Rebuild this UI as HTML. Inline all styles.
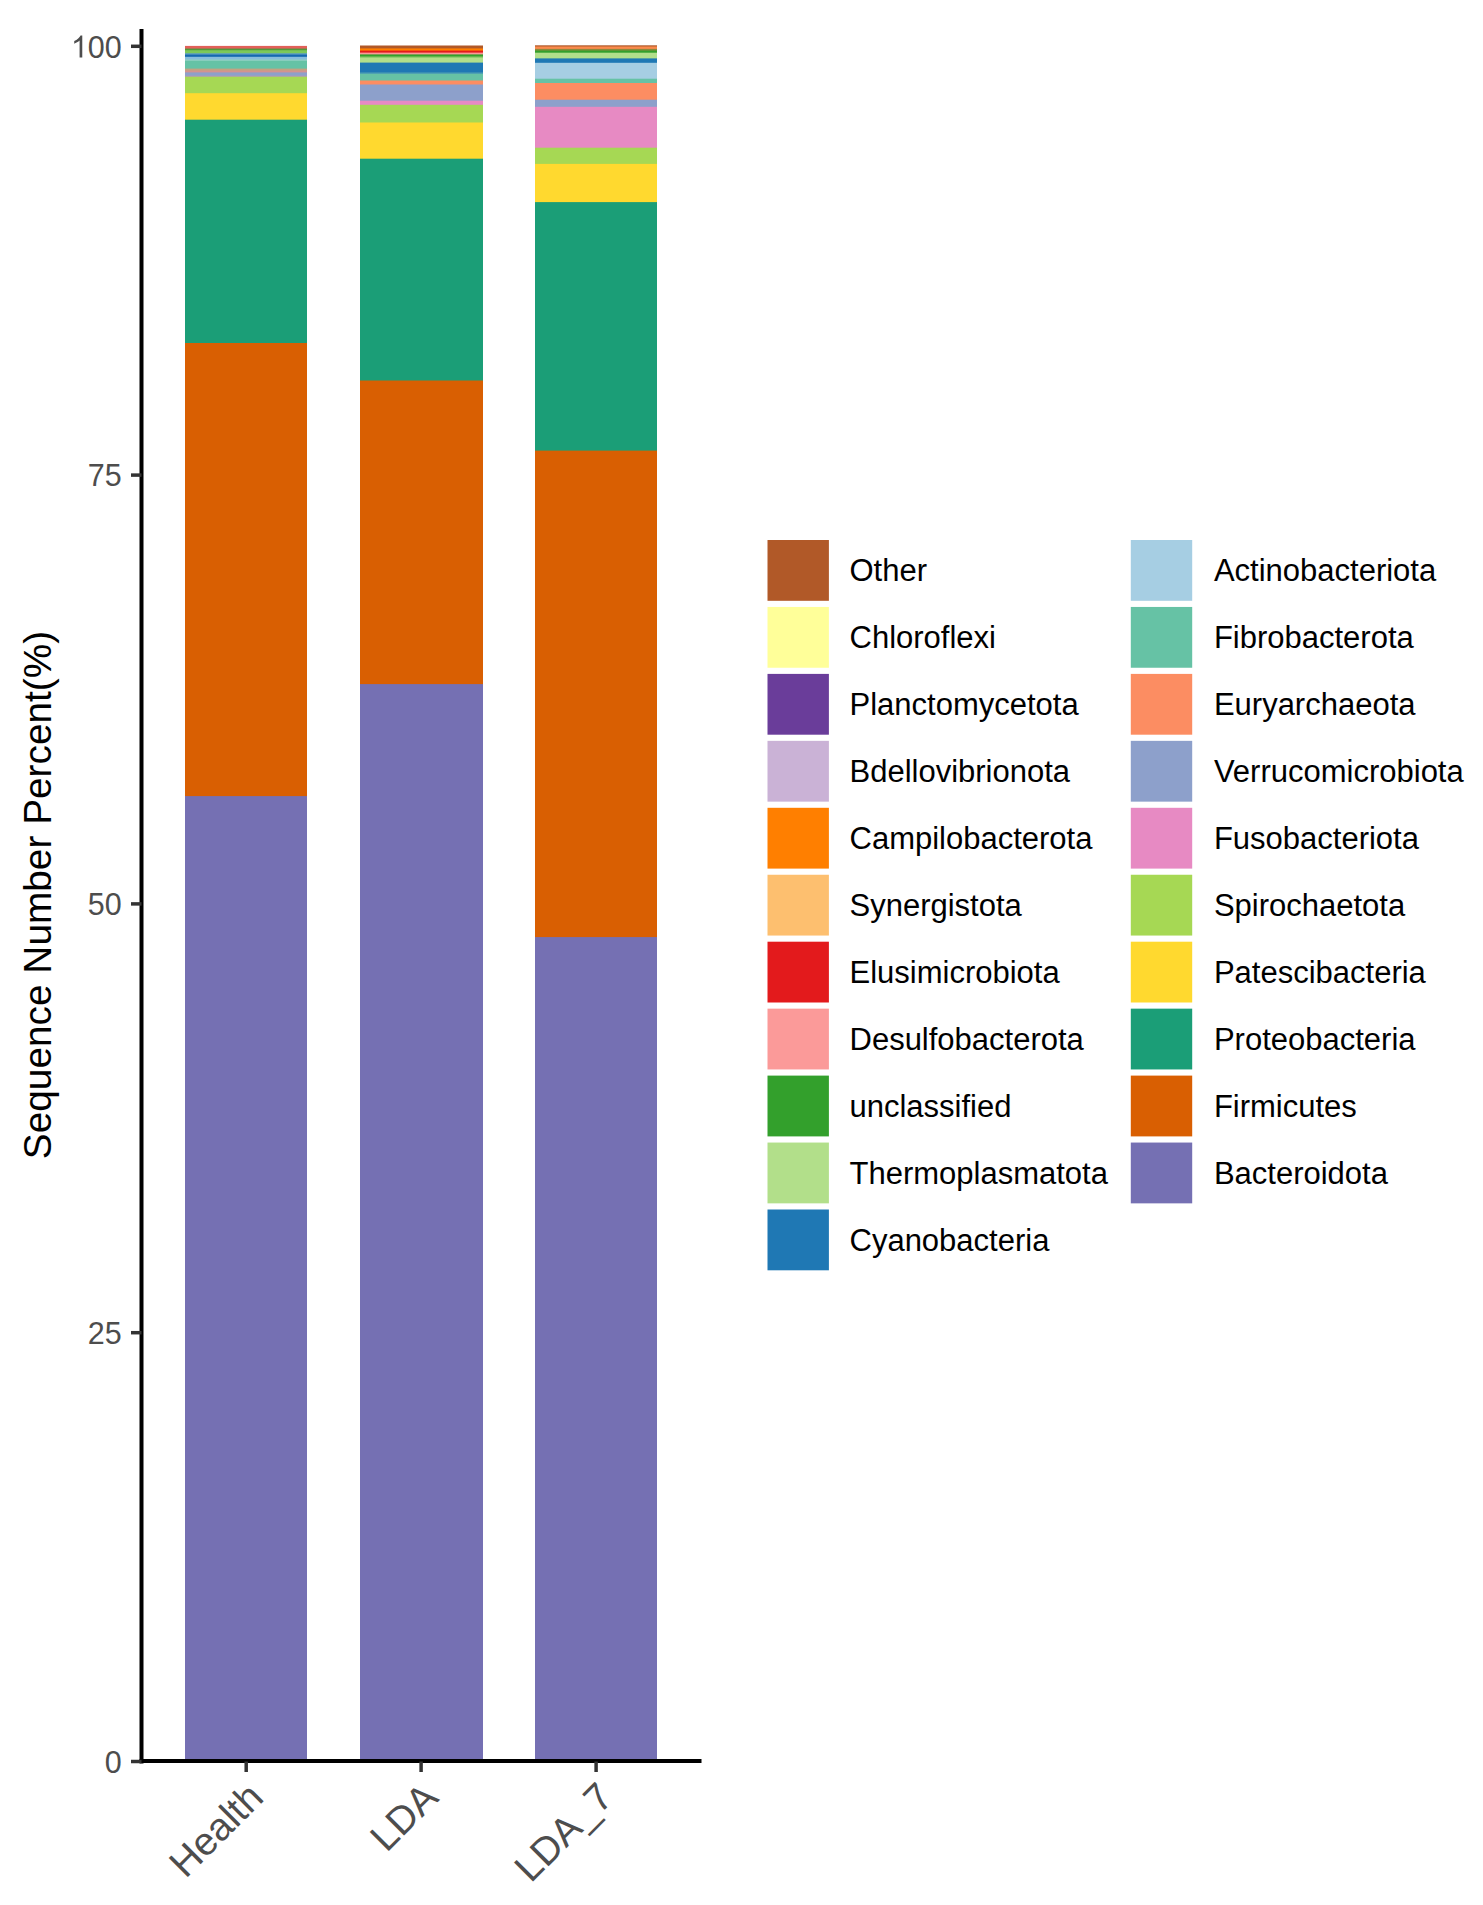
<!DOCTYPE html>
<html><head><meta charset="utf-8"><style>
html,body{margin:0;padding:0;background:#fff;}
body{width:1483px;height:1905px;overflow:hidden;position:relative;}
svg{display:block;position:absolute;left:0;top:0;}
#s{}
text{font-family:"Liberation Sans",sans-serif;}
.tk{font-size:30.5px;fill:#4D4D4D;}
.lg{font-size:31px;fill:#000;}
.ttl{font-size:38.8px;fill:#000;}
.xl{font-size:39px;fill:#4D4D4D;}
</style></head><body>
<svg id="s" width="1483" height="1905" viewBox="0 0 1483 1905">
<rect x="185.0" y="45.90" width="122.0" height="1715.60" fill="#E2605A"/>
<rect x="185.0" y="48.60" width="122.0" height="1712.90" fill="#4F9A3A"/>
<rect x="185.0" y="50.20" width="122.0" height="1711.30" fill="#7CC858"/>
<rect x="185.0" y="53.20" width="122.0" height="1708.30" fill="#5E9EC0"/>
<rect x="185.0" y="54.60" width="122.0" height="1706.90" fill="#1468B0"/>
<rect x="185.0" y="56.80" width="122.0" height="1704.70" fill="#86BCDC"/>
<rect x="185.0" y="59.40" width="122.0" height="1702.10" fill="#92D0C4"/>
<rect x="185.0" y="60.80" width="122.0" height="1700.70" fill="#66C2A5"/>
<rect x="185.0" y="68.60" width="122.0" height="1692.90" fill="#C4A282"/>
<rect x="185.0" y="70.60" width="122.0" height="1690.90" fill="#D49290"/>
<rect x="185.0" y="72.40" width="122.0" height="1689.10" fill="#8DA0CB"/>
<rect x="185.0" y="75.60" width="122.0" height="1685.90" fill="#B098B8"/>
<rect x="185.0" y="76.70" width="122.0" height="1684.80" fill="#A6D854"/>
<rect x="185.0" y="93.20" width="122.0" height="1668.30" fill="#FFD92F"/>
<rect x="185.0" y="119.70" width="122.0" height="1641.80" fill="#1B9E77"/>
<rect x="185.0" y="343.00" width="122.0" height="1418.50" fill="#D95F02"/>
<rect x="185.0" y="796.10" width="122.0" height="965.40" fill="#7570B3"/>
<rect x="360.0" y="45.50" width="123.0" height="1716.00" fill="#B15928"/>
<rect x="360.0" y="48.40" width="123.0" height="1713.10" fill="#FF7F00"/>
<rect x="360.0" y="50.60" width="123.0" height="1710.90" fill="#E31A1C"/>
<rect x="360.0" y="52.60" width="123.0" height="1708.90" fill="#FB9A99"/>
<rect x="360.0" y="54.40" width="123.0" height="1707.10" fill="#33A02C"/>
<rect x="360.0" y="56.40" width="123.0" height="1705.10" fill="#7CC460"/>
<rect x="360.0" y="57.60" width="123.0" height="1703.90" fill="#B2DF8A"/>
<rect x="360.0" y="62.60" width="123.0" height="1698.90" fill="#1F78B4"/>
<rect x="360.0" y="72.40" width="123.0" height="1689.10" fill="#4A9CB4"/>
<rect x="360.0" y="73.80" width="123.0" height="1687.70" fill="#66C2A5"/>
<rect x="360.0" y="80.50" width="123.0" height="1681.00" fill="#FC8D62"/>
<rect x="360.0" y="84.50" width="123.0" height="1677.00" fill="#8DA0CB"/>
<rect x="360.0" y="100.70" width="123.0" height="1660.80" fill="#E78AC3"/>
<rect x="360.0" y="104.80" width="123.0" height="1656.70" fill="#A6D854"/>
<rect x="360.0" y="122.50" width="123.0" height="1639.00" fill="#FFD92F"/>
<rect x="360.0" y="158.70" width="123.0" height="1602.80" fill="#1B9E77"/>
<rect x="360.0" y="380.50" width="123.0" height="1381.00" fill="#D95F02"/>
<rect x="360.0" y="684.10" width="123.0" height="1077.40" fill="#7570B3"/>
<rect x="535.0" y="45.30" width="122.0" height="1716.20" fill="#B15928"/>
<rect x="535.0" y="46.50" width="122.0" height="1715.00" fill="#FA8A4C"/>
<rect x="535.0" y="48.90" width="122.0" height="1712.60" fill="#8C8A3A"/>
<rect x="535.0" y="50.50" width="122.0" height="1711.00" fill="#33A02C"/>
<rect x="535.0" y="52.70" width="122.0" height="1708.80" fill="#B2DF8A"/>
<rect x="535.0" y="58.40" width="122.0" height="1703.10" fill="#1F78B4"/>
<rect x="535.0" y="62.80" width="122.0" height="1698.70" fill="#A6CEE3"/>
<rect x="535.0" y="78.70" width="122.0" height="1682.80" fill="#66C2A5"/>
<rect x="535.0" y="83.00" width="122.0" height="1678.50" fill="#FC8D62"/>
<rect x="535.0" y="99.70" width="122.0" height="1661.80" fill="#8DA0CB"/>
<rect x="535.0" y="106.80" width="122.0" height="1654.70" fill="#E78AC3"/>
<rect x="535.0" y="147.70" width="122.0" height="1613.80" fill="#A6D854"/>
<rect x="535.0" y="163.90" width="122.0" height="1597.60" fill="#FFD92F"/>
<rect x="535.0" y="202.10" width="122.0" height="1559.40" fill="#1B9E77"/>
<rect x="535.0" y="450.60" width="122.0" height="1310.90" fill="#D95F02"/>
<rect x="535.0" y="937.10" width="122.0" height="824.40" fill="#7570B3"/>
<rect x="767.5" y="540.00" width="61.4" height="60.8" fill="#B15928"/>
<rect x="767.5" y="606.95" width="61.4" height="60.8" fill="#FFFF99"/>
<rect x="767.5" y="673.90" width="61.4" height="60.8" fill="#6A3D9A"/>
<rect x="767.5" y="740.85" width="61.4" height="60.8" fill="#CAB2D6"/>
<rect x="767.5" y="807.80" width="61.4" height="60.8" fill="#FF7F00"/>
<rect x="767.5" y="874.75" width="61.4" height="60.8" fill="#FDBF6F"/>
<rect x="767.5" y="941.70" width="61.4" height="60.8" fill="#E31A1C"/>
<rect x="767.5" y="1008.65" width="61.4" height="60.8" fill="#FB9A99"/>
<rect x="767.5" y="1075.60" width="61.4" height="60.8" fill="#33A02C"/>
<rect x="767.5" y="1142.55" width="61.4" height="60.8" fill="#B2DF8A"/>
<rect x="767.5" y="1209.50" width="61.4" height="60.8" fill="#1F78B4"/>
<rect x="1130.8" y="540.00" width="61.4" height="60.8" fill="#A6CEE3"/>
<rect x="1130.8" y="606.95" width="61.4" height="60.8" fill="#66C2A5"/>
<rect x="1130.8" y="673.90" width="61.4" height="60.8" fill="#FC8D62"/>
<rect x="1130.8" y="740.85" width="61.4" height="60.8" fill="#8DA0CB"/>
<rect x="1130.8" y="807.80" width="61.4" height="60.8" fill="#E78AC3"/>
<rect x="1130.8" y="874.75" width="61.4" height="60.8" fill="#A6D854"/>
<rect x="1130.8" y="941.70" width="61.4" height="60.8" fill="#FFD92F"/>
<rect x="1130.8" y="1008.65" width="61.4" height="60.8" fill="#1B9E77"/>
<rect x="1130.8" y="1075.60" width="61.4" height="60.8" fill="#D95F02"/>
<rect x="1130.8" y="1142.55" width="61.4" height="60.8" fill="#7570B3"/>
</svg>
<svg width="1483" height="1905" viewBox="0 0 1483 1905">
<line x1="141.5" y1="29" x2="141.5" y2="1763.5" stroke="#000" stroke-width="4"/>
<line x1="139.5" y1="1761.0" x2="701.5" y2="1761.0" stroke="#000" stroke-width="4"/>
<line x1="131" y1="1761.5" x2="141.5" y2="1761.5" stroke="#333" stroke-width="3.5"/>
<text x="121.8" y="1772.7" text-anchor="end" class="tk">0</text>
<line x1="131" y1="1332.7" x2="141.5" y2="1332.7" stroke="#333" stroke-width="3.5"/>
<text x="121.8" y="1343.9" text-anchor="end" class="tk">25</text>
<line x1="131" y1="903.9" x2="141.5" y2="903.9" stroke="#333" stroke-width="3.5"/>
<text x="121.8" y="915.1" text-anchor="end" class="tk">50</text>
<line x1="131" y1="475.1" x2="141.5" y2="475.1" stroke="#333" stroke-width="3.5"/>
<text x="121.8" y="486.3" text-anchor="end" class="tk">75</text>
<line x1="131" y1="46.3" x2="141.5" y2="46.3" stroke="#333" stroke-width="3.5"/>
<text x="121.8" y="57.5" text-anchor="end" class="tk">00</text>
<path transform="translate(70.91 57.50) scale(0.014893 -0.014893)" fill="#4D4D4D" d="M763 0H583V1147Q518 1085 412 1023Q306 961 223 930V1104Q374 1175 487 1276Q600 1377 647 1472H763Z"/>
<line x1="246.2" y1="1761.5" x2="246.2" y2="1772" stroke="#333" stroke-width="3.5"/>
<line x1="421.1" y1="1761.5" x2="421.1" y2="1772" stroke="#333" stroke-width="3.5"/>
<line x1="596.1" y1="1761.5" x2="596.1" y2="1772" stroke="#333" stroke-width="3.5"/>
<text x="245.5" y="1779.7" text-anchor="end" class="xl" transform="rotate(-45 245.5 1779.7)" dominant-baseline="hanging">Health</text>
<text x="420.4" y="1779.7" text-anchor="end" class="xl" transform="rotate(-45 420.4 1779.7)" dominant-baseline="hanging">LDA</text>
<text x="595.4" y="1779.7" text-anchor="end" class="xl" transform="rotate(-45 595.4 1779.7)" dominant-baseline="hanging">LDA_7</text>
<text x="50.5" y="895" text-anchor="middle" class="ttl" transform="rotate(-90 50.5 895)">Sequence Number Percent(%)</text>
<text x="849.5" y="581.10" class="lg">Other</text>
<text x="849.5" y="648.05" class="lg">Chloroflexi</text>
<text x="849.5" y="715.00" class="lg">Planctomycetota</text>
<text x="849.5" y="781.95" class="lg">Bdellovibrionota</text>
<text x="849.5" y="848.90" class="lg">Campilobacterota</text>
<text x="849.5" y="915.85" class="lg">Synergistota</text>
<text x="849.5" y="982.80" class="lg">Elusimicrobiota</text>
<text x="849.5" y="1049.75" class="lg">Desulfobacterota</text>
<text x="849.5" y="1116.70" class="lg">unclassified</text>
<text x="849.5" y="1183.65" class="lg">Thermoplasmatota</text>
<text x="849.5" y="1250.60" class="lg">Cyanobacteria</text>
<text x="1213.9" y="581.10" class="lg">Actinobacteriota</text>
<text x="1213.9" y="648.05" class="lg">Fibrobacterota</text>
<text x="1213.9" y="715.00" class="lg">Euryarchaeota</text>
<text x="1213.9" y="781.95" class="lg">Verrucomicrobiota</text>
<text x="1213.9" y="848.90" class="lg">Fusobacteriota</text>
<text x="1213.9" y="915.85" class="lg">Spirochaetota</text>
<text x="1213.9" y="982.80" class="lg">Patescibacteria</text>
<text x="1213.9" y="1049.75" class="lg">Proteobacteria</text>
<text x="1213.9" y="1116.70" class="lg">Firmicutes</text>
<text x="1213.9" y="1183.65" class="lg">Bacteroidota</text>
</svg>
</body></html>
